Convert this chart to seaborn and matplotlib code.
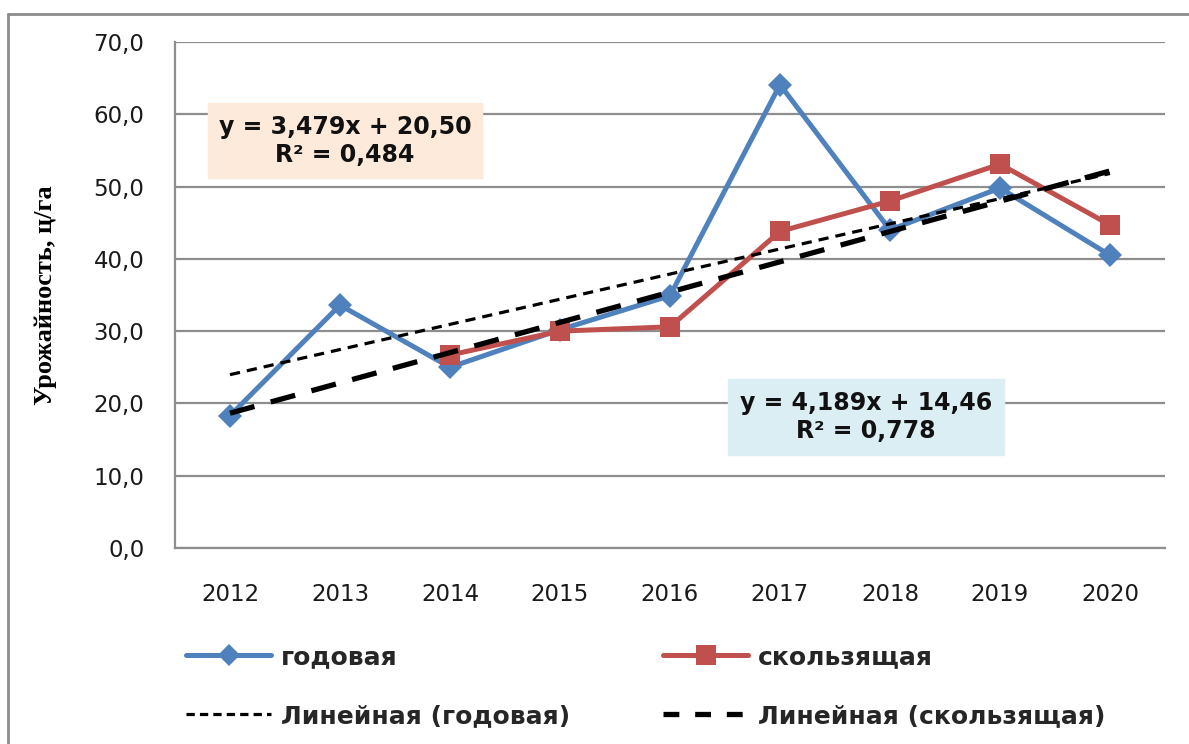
import matplotlib
matplotlib.use("Agg")
import matplotlib.pyplot as plt
import seaborn as sns
import pandas as pd
import numpy as np
from matplotlib.lines import Line2D

# ---- data ----
years = ["2012", "2013", "2014", "2015", "2016", "2017", "2018", "2019", "2020"]
annual = [18.3, 33.6, 25.0, 30.2, 34.9, 64.1, 44.0, 49.8, 40.5]
moving = [np.nan, np.nan, 26.7, 30.0, 30.6, 43.8, 48.0, 53.1, 44.7]
trend_annual = (3.479, 20.50)   # slope, intercept (x = 1..9)
trend_moving = (4.189, 14.46)
eq_annual = "y = 3,479x + 20,50\nR² = 0,484"
eq_moving = "y = 4,189x + 14,46\nR² = 0,778"
yticks = [0, 10, 20, 30, 40, 50, 60, 70]
ylabel = "Урожайность, ц/га"
lab_annual = "годовая"
lab_moving = "скользящая"
lab_tr_annual = "Линейная (годовая)"
lab_tr_moving = "Линейная (скользящая)"

sns.set_theme(style="white")
plt.rcParams["font.family"] = ["DejaVu Sans"]

W, H = 1189, 744
fig = plt.figure(figsize=(W / 100, H / 100), dpi=100)
fig.patch.set_facecolor("white")
ax = fig.add_axes([175 / W, 1 - 548 / H, 990 / W, (548 - 42) / H])

idx = np.arange(len(years))
df = pd.DataFrame({"x": idx, "annual": annual, "moving": moving})

BLUE = "#4F81BD"
RED = "#C0504D"
GRID = "#8E8E8E"

# trend lines
xt = idx + 1
ax.plot(idx, trend_annual[0] * xt + trend_annual[1], color="black", lw=2.3,
        dashes=(3.2, 2.2), zorder=4, solid_capstyle="butt")
ax.plot(idx, trend_moving[0] * xt + trend_moving[1], color="black", lw=3.8,
        dashes=(4.8, 3.2), zorder=4)

sns.lineplot(data=df, x="x", y="annual", ax=ax, color=BLUE, lw=3.6,
             marker="D", markersize=12, markeredgewidth=0, zorder=3)
dfm = df.dropna(subset=["moving"])
sns.lineplot(data=dfm, x="x", y="moving", ax=ax, color=RED, lw=3.6,
             marker="s", markersize=15, markeredgewidth=0, zorder=3)

ax.set_xlim(-0.5, len(years) - 0.5)
ax.set_ylim(0, 70)
ax.set_yticks(yticks)
ax.set_yticklabels([f"{v:.1f}".replace(".", ",") for v in yticks],
                   fontsize=16.5, color="#1a1a1a")
ax.set_xticks(idx)
ax.set_xticklabels(years, fontsize=16.5, color="#1a1a1a")
ax.set_xticks(np.arange(-0.5, len(years)), minor=True)
ax.tick_params(axis="x", which="major", length=0, pad=25)
ax.tick_params(axis="x", which="minor", length=8, width=1.6, color=GRID, direction="out")
ax.tick_params(axis="y", length=8, width=1.6, color=GRID, direction="out", pad=14)
ax.grid(axis="y", color=GRID, lw=1.6)
ax.set_axisbelow(True)
for s in ["top", "right"]:
    ax.spines[s].set_visible(False)
for s in ["left", "bottom"]:
    ax.spines[s].set_color(GRID)
    ax.spines[s].set_linewidth(1.6)
ax.set_xlabel("")
ax.set_ylabel(ylabel, family="Liberation Serif", fontweight="bold", fontsize=19,
              color="black")
ax.yaxis.set_label_coords((57 - 175) / 990, 0.5)

# equation boxes
fig.patches.append(plt.Rectangle((208 / W, 1 - 178 / H), 274 / W, 75 / H,
                                 transform=fig.transFigure, color="#FDEADA", zorder=1))
fig.text(345 / W, 1 - 141 / H, eq_annual, ha="center", va="center", fontsize=17,
         fontweight="bold", color="#111111", linespacing=1.2, zorder=6)
fig.patches.append(plt.Rectangle((728 / W, 1 - 455 / H), 276 / W, 76 / H,
                                 transform=fig.transFigure, color="#DBEEF4", zorder=1))
fig.text(866 / W, 1 - 417 / H, eq_moving, ha="center", va="center", fontsize=17,
         fontweight="bold", color="#111111", linespacing=1.2, zorder=6)

# outer border
fig.add_artist(Line2D([8 / W, 1], [1 - 14 / H, 1 - 14 / H], transform=fig.transFigure,
                      color="#8C8C8C", lw=2))
fig.add_artist(Line2D([8 / W, 8 / W], [0, 1 - 14 / H], transform=fig.transFigure,
                      color="#8C8C8C", lw=2))

# legend (two columns)
h_a = Line2D([], [], color=BLUE, lw=3.6, marker="D", markersize=11, markeredgewidth=0)
h_ta = Line2D([], [], color="black", lw=2.3, dashes=(2.6, 1.6))
h_m = Line2D([], [], color=RED, lw=3.6, marker="s", markersize=14, markeredgewidth=0)
h_tm = Line2D([], [], color="black", lw=3.8, dashes=(3.0, 3.0))
common = dict(loc="upper left", frameon=False, handlelength=3.4, handletextpad=0.4,
              labelspacing=1.4, borderaxespad=0, borderpad=0,
              prop={"size": 18, "weight": "bold"})
fig.legend([h_a, h_ta], [lab_annual, lab_tr_annual],
           bbox_to_anchor=(186 / W, 1 - 645 / H), **common)
fig.legend([h_m, h_tm], [lab_moving, lab_tr_moving],
           bbox_to_anchor=(663 / W, 1 - 645 / H), **common)

fig.savefig("out.png", dpi=100, facecolor="white")
